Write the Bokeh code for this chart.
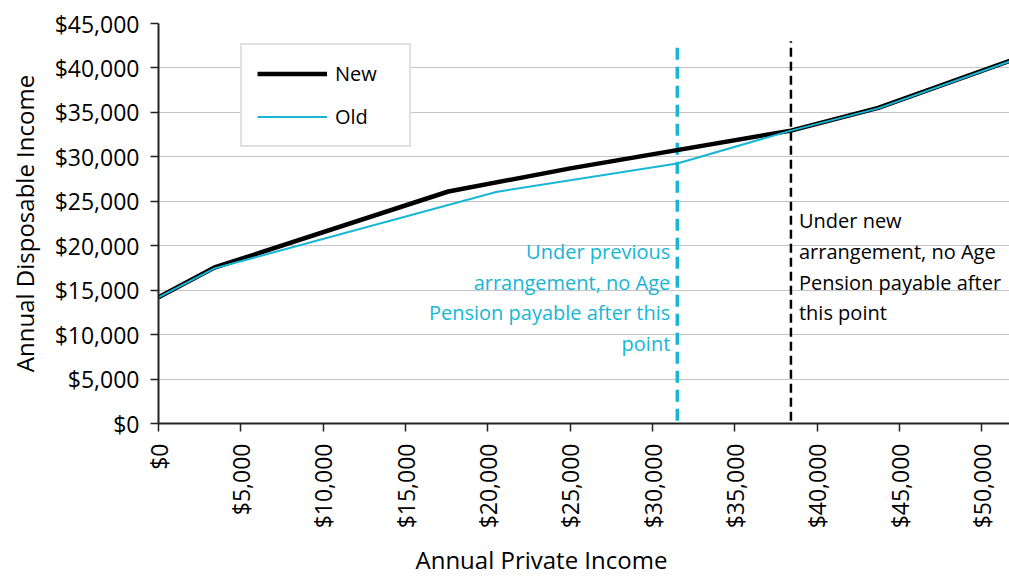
from bokeh.plotting import figure
from bokeh.models import (Range1d, FixedTicker, NumeralTickFormatter, Legend,
                          LegendItem, Label, Title)
from bokeh.embed import file_html
from bokeh.resources import INLINE
import math

# ---- data ----
new_x = [0, 3400, 17600, 25000, 38400, 43700, 51700]
new_y = [14200, 17550, 26100, 28700, 32950, 35500, 40800]
old_x = [0, 3400, 20500, 31500, 38400, 43700, 51700]
old_y = [14200, 17450, 26050, 29250, 32950, 35450, 40750]

old_cutoff = 31500
new_cutoff = 38400
cutoff_top = 43000
cutoff_bottom = 300

x_ticks = [0, 5000, 10000, 15000, 20000, 25000, 30000, 35000, 40000, 45000, 50000]
y_ticks = [0, 5000, 10000, 15000, 20000, 25000, 30000, 35000, 40000, 45000]
grid_ticks = [5000, 10000, 15000, 20000, 25000, 30000, 35000, 40000]

old_note = ["Under previous", "arrangement, no Age", "Pension payable after this", "point"]
new_note = ["Under new", "arrangement, no Age", "Pension payable after", "this point"]

CYAN = "#16B6D4"
FONT = "Open Sans"

p = figure(frame_width=851, frame_height=400, output_backend="svg",
           toolbar_location=None, x_range=Range1d(0, 51670),
           y_range=Range1d(0, 45000), min_border_left=158, min_border_top=23,
           min_border_right=0, min_border_bottom=154)
p.outline_line_color = None
p.background_fill_color = "white"
p.border_fill_color = "white"

# grid
p.xgrid.grid_line_color = None
p.ygrid.ticker = FixedTicker(ticks=grid_ticks)
p.ygrid.grid_line_color = "#C4C4C4"
p.ygrid.grid_line_width = 1.2

# axes
for ax in (p.xaxis[0], p.yaxis[0]):
    ax.formatter = NumeralTickFormatter(format="$0,0")
    ax.axis_line_color = "#222222"
    ax.axis_line_width = 2
    ax.major_tick_line_color = "#222222"
    ax.major_tick_line_width = 1.5
    ax.major_tick_out = 8
    ax.major_tick_in = 0
    ax.minor_tick_line_color = None
    ax.major_label_text_font = FONT
    ax.major_label_text_font_size = "23px"
    ax.major_label_text_color = "black"
    ax.axis_label_text_font = FONT
    ax.axis_label_text_font_size = "24px"
    ax.axis_label_text_font_style = "normal"
    ax.axis_label_text_color = "black"

p.xaxis.ticker = FixedTicker(ticks=x_ticks)
p.yaxis.ticker = FixedTicker(ticks=y_ticks)
p.xaxis.major_label_orientation = math.pi / 2
p.xaxis.major_label_standoff = 12
p.yaxis.major_label_standoff = 11
p.yaxis.axis_label = "Annual Disposable Income"
p.yaxis.axis_label_standoff = 11

x_title = Title(text="Annual Private Income", align="left", offset=257,
                text_font=FONT, text_font_size="24px", text_font_style="normal",
                text_color="black", standoff=19)
p.add_layout(x_title, "below")

# cutoff lines
p.line([old_cutoff, old_cutoff], [cutoff_bottom, cutoff_top], line_color=CYAN,
       line_width=3.5, line_dash="12 7")
p.line([new_cutoff, new_cutoff], [cutoff_bottom, cutoff_top], line_color="black",
       line_width=2.5, line_dash="9 5")

# series
r_new = p.line(new_x, new_y, line_color="black", line_width=4.5)
r_old = p.line(old_x, old_y, line_color=CYAN, line_width=2)

legend = Legend(items=[LegendItem(label="New", renderers=[r_new]),
                       LegendItem(label="Old", renderers=[r_old])],
                location=(82, 276), orientation="vertical")
legend.border_line_color = "#C4C4C4"
legend.border_line_width = 2
legend.background_fill_color = "white"
legend.background_fill_alpha = 1
legend.margin = 0
legend.padding = 15
legend.spacing = 16
legend.label_height = 25
legend.glyph_height = 25
legend.glyph_width = 70
legend.label_standoff = 8
legend.label_width = 59
legend.label_text_font = FONT
legend.label_text_font_size = "20px"
legend.label_text_color = "black"
p.add_layout(legend, "center")

# annotations
line_gap = 30.7
for i, t in enumerate(old_note):
    p.add_layout(Label(x=old_cutoff, y=19350, x_offset=-7, y_offset=-i * line_gap,
                       text=t, text_align="right", text_baseline="middle",
                       text_font=FONT, text_font_size="20px", text_color=CYAN))
for i, t in enumerate(new_note):
    p.add_layout(Label(x=new_cutoff, y=22800, x_offset=8, y_offset=-i * line_gap,
                       text=t, text_align="left", text_baseline="middle",
                       text_font=FONT, text_font_size="20px", text_color="black"))

open("out.html", "w").write(file_html(p, INLINE))
